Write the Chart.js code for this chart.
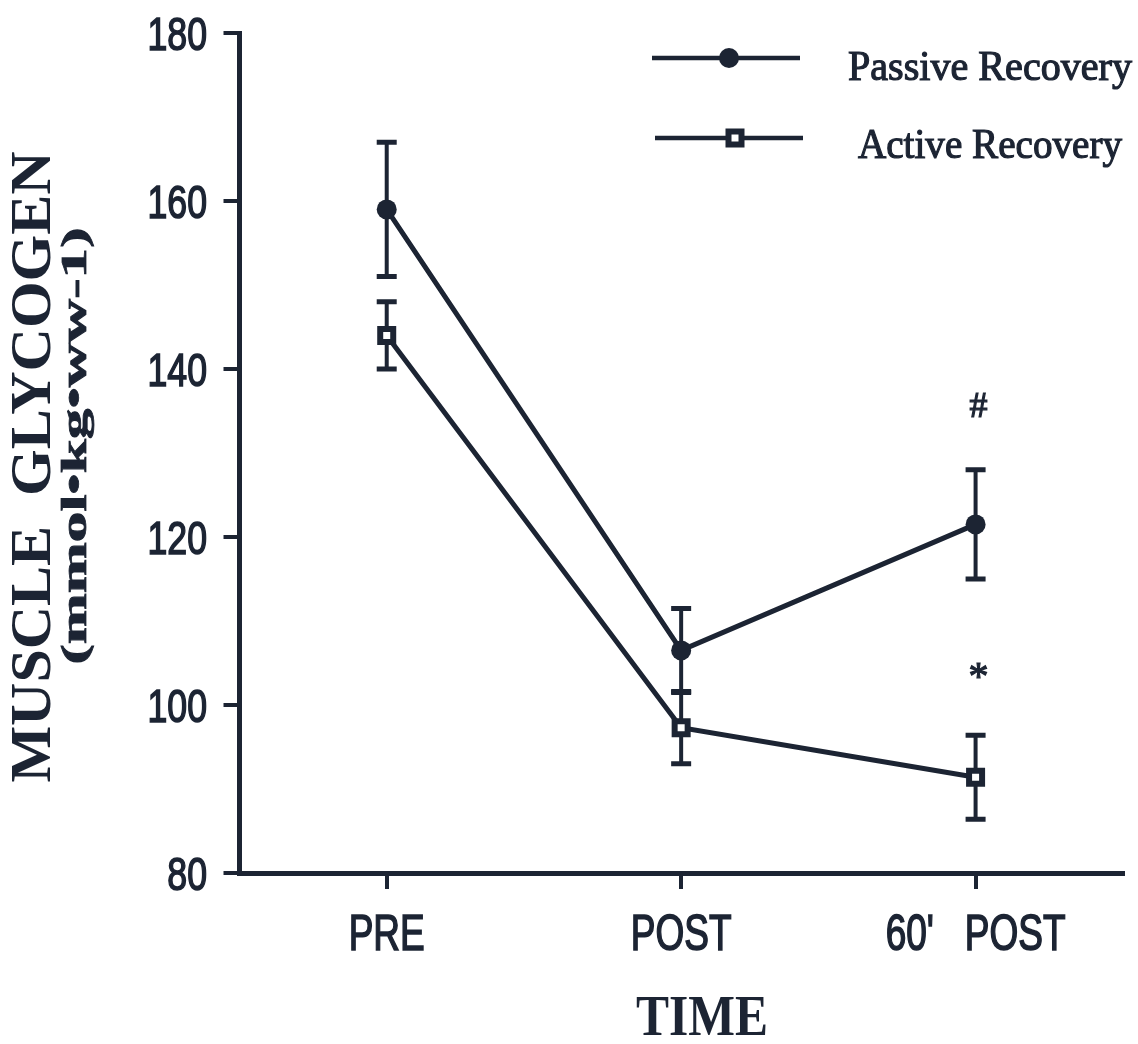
<!DOCTYPE html>
<html>
<head>
<meta charset="utf-8">
<script src="https://cdn.jsdelivr.net/npm/chart.js@4/dist/chart.umd.min.js"></script>
<style>
  html, body { margin: 0; padding: 0; background: #ffffff; }
  #wrap { width: 1138px; height: 1044px; }
</style>
</head>
<body>
<div id="wrap"><canvas id="c" width="1138" height="1044"></canvas></div>
<script>
// ---------------- data ----------------
const categories = ['PRE', 'POST', "60'   POST"];
const passiveMean = [159, 106.5, 121.5];
const passiveErr  = [8, 5, 6.5];
const activeMean  = [144, 97.3, 91.4];
const activeErr   = [4, 4.3, 5];
const yTickValues = [80, 100, 120, 140, 160, 180];
const markText    = ['#', '*'];
const markIndex   = [2, 2];
const markValue   = [135.4, 103.9];
const seriesNames = ['Passive Recovery', 'Active Recovery'];
const yTitle1 = 'MUSCLE  GLYCOGEN';
const yTitle2 = '(mmol\u2022kg\u2022ww-1)';
const xTitle  = 'TIME';

// ---------------- styling ----------------
const INK = '#1c2433';
const SANS = "'Liberation Sans', Arial, sans-serif";
const SERIF = "'Liberation Serif', 'Times New Roman', serif";

function fitText(ctx, text, font, cx, cy, targetW, angle, baseline, stroke) {
  ctx.save();
  ctx.font = font;
  ctx.fillStyle = INK;
  ctx.strokeStyle = INK;
  ctx.translate(cx, cy);
  ctx.rotate(angle || 0);
  const w = ctx.measureText(text).width;
  ctx.scale(targetW / w, 1);
  ctx.textAlign = 'center';
  ctx.textBaseline = baseline || 'middle';
  ctx.fillText(text, 0, 0);
  if (stroke) { ctx.lineWidth = stroke; ctx.strokeText(text, 0, 0); }
  ctx.restore();
}

function scaledText(ctx, text, font, x, y, sx, align, baseline, stroke) {
  ctx.save();
  ctx.font = font;
  ctx.fillStyle = INK;
  ctx.strokeStyle = INK;
  ctx.translate(x, y);
  ctx.scale(sx, 1);
  ctx.textAlign = align;
  ctx.textBaseline = baseline;
  ctx.fillText(text, 0, 0);
  if (stroke) { ctx.lineWidth = stroke; ctx.strokeText(text, 0, 0); }
  ctx.restore();
}

const errorBars = {
  id: 'errorBars',
  beforeDatasetsDraw(chart) {
    const ctx = chart.ctx, xs = chart.scales.x, ys = chart.scales.y;
    const sets = [[passiveMean, passiveErr], [activeMean, activeErr]];
    ctx.save();
    ctx.strokeStyle = INK;
    sets.forEach(([m, e]) => {
      m.forEach((v, i) => {
        const x = xs.getPixelForValue(i);
        const yt = ys.getPixelForValue(v + e[i]);
        const yb = ys.getPixelForValue(v - e[i]);
        ctx.lineWidth = 4;
        ctx.beginPath(); ctx.moveTo(x, yt); ctx.lineTo(x, yb); ctx.stroke();
        ctx.lineWidth = 5;
        ctx.beginPath();
        ctx.moveTo(x - 10, yt); ctx.lineTo(x + 10, yt);
        ctx.moveTo(x - 10, yb); ctx.lineTo(x + 10, yb);
        ctx.stroke();
      });
    });
    ctx.restore();
  }
};

const decorations = {
  id: 'decorations',
  afterDraw(chart) {
    const ctx = chart.ctx, xs = chart.scales.x, ys = chart.scales.y;

    // tick labels (condensed look), positioned by the library's scales
    xs.ticks.forEach((t, i) => {
      const label = xs.getLabelForValue(t.value);
      scaledText(ctx, label, '50px ' + SANS, xs.getPixelForTick(i), 950, 0.74, 'center', 'alphabetic', 1.6);
    });
    ys.ticks.forEach((t, i) => {
      scaledText(ctx, String(t.value), '47px ' + SANS, 207, ys.getPixelForTick(i) + 17, 0.76, 'right', 'alphabetic', 1.6);
    });

    // significance marks
    ctx.save();
    ctx.fillStyle = INK;
    ctx.strokeStyle = INK;
    ctx.lineWidth = 1.2;
    ctx.textAlign = 'center';
    ctx.textBaseline = 'middle';
    markText.forEach((t, k) => {
      ctx.font = (t === '#' ? '36px ' : '40px ') + SERIF;
      const x = xs.getPixelForValue(markIndex[k]) + 3;
      const y = ys.getPixelForValue(markValue[k]) + (t === '*' ? 6 : 0);
      ctx.fillText(t, x, y);
      ctx.strokeText(t, x, y);
    });
    ctx.restore();

    // axis titles
    fitText(ctx, yTitle1, 'bold 56px ' + SERIF, 36, 467, 631, -Math.PI / 2, 'middle');
    fitText(ctx, yTitle2, 'bold 35px ' + SERIF, 77, 446, 437, -Math.PI / 2, 'middle', 0.8);
    fitText(ctx, xTitle, 'bold 58px ' + SERIF, 702, 1020, 132, 0, 'middle');

    // legend
    ctx.save();
    ctx.strokeStyle = INK;
    ctx.lineWidth = 4.5;
    ctx.beginPath(); ctx.moveTo(652, 58); ctx.lineTo(800, 58); ctx.stroke();
    ctx.beginPath(); ctx.moveTo(655, 138); ctx.lineTo(803, 138); ctx.stroke();
    ctx.fillStyle = INK;
    ctx.beginPath(); ctx.arc(729, 58, 10, 0, Math.PI * 2); ctx.fill();
    ctx.fillStyle = '#fff';
    ctx.lineWidth = 6;
    ctx.beginPath(); ctx.rect(735 - 6.5, 138 - 6.5, 13, 13); ctx.fill(); ctx.stroke();
    ctx.restore();
    fitText(ctx, seriesNames[0], '42px ' + SERIF, 848 + 142, 80, 284, 0, 'alphabetic', 1.2);
    fitText(ctx, seriesNames[1], '42px ' + SERIF, 858 + 132, 158, 264, 0, 'alphabetic', 1.2);
  }
};

new Chart(document.getElementById('c'), {
  type: 'line',
  data: {
    labels: categories,
    datasets: [
      {
        label: seriesNames[0],
        data: passiveMean,
        borderColor: INK,
        backgroundColor: INK,
        borderWidth: 5,
        pointStyle: 'circle',
        pointRadius: 10,
        pointBorderWidth: 0,
        pointBackgroundColor: INK,
        tension: 0
      },
      {
        label: seriesNames[1],
        data: activeMean,
        borderColor: INK,
        backgroundColor: '#ffffff',
        borderWidth: 5,
        pointStyle: 'rect',
        pointRadius: 9.2,
        pointBorderWidth: 6,
        pointBorderColor: INK,
        pointBackgroundColor: '#ffffff',
        tension: 0
      }
    ]
  },
  options: {
    responsive: false,
    animation: false,
    devicePixelRatio: 1,
    layout: { padding: { top: 33, right: 7.5, left: 0, bottom: 0 } },
    plugins: { legend: { display: false }, tooltip: { enabled: false }, title: { display: false } },
    scales: {
      x: {
        type: 'category',
        offset: true,
        grid: { display: true, drawOnChartArea: false, drawTicks: true, tickLength: 16, lineWidth: 4, color: INK, tickColor: INK, offset: false },
        border: { display: true, color: INK, width: 5 },
        ticks: { display: false, autoSkip: false, maxRotation: 0 },
        afterFit(s) { s.height = 171; }
      },
      y: {
        min: 80,
        max: 180,
        grid: { display: true, drawOnChartArea: false, drawTicks: true, tickLength: 16, lineWidth: 4, color: INK, tickColor: INK },
        border: { display: true, color: INK, width: 5 },
        ticks: { display: false },
        afterBuildTicks(s) { s.ticks = yTickValues.map(v => ({ value: v })); },
        afterFit(s) { s.width = 239.5; }
      }
    }
  },
  plugins: [errorBars, decorations]
});
</script>
</body>
</html>
